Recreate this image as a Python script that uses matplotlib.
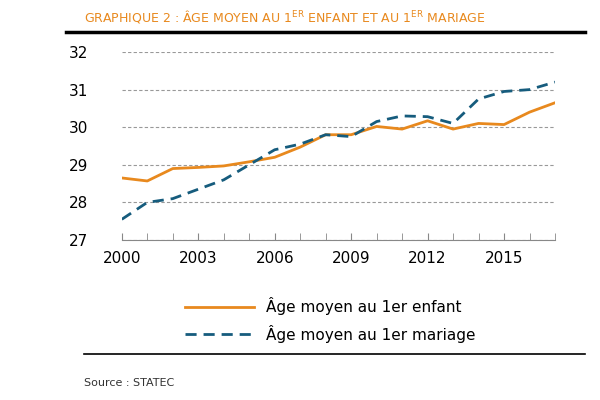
import matplotlib.pyplot as plt
from matplotlib.lines import Line2D

years = list(range(2000, 2018))
age_enfant = [28.65, 28.57, 28.9, 28.93, 28.97, 29.08, 29.2, 29.47, 29.8, 29.8,
              30.02, 29.95, 30.17, 29.95, 30.1, 30.07, 30.4, 30.65]
age_mariage = [27.55, 28.0, 28.1, 28.35, 28.6, 29.0, 29.4, 29.55, 29.8, 29.75,
               30.15, 30.3, 30.28, 30.1, 30.75, 30.95, 31.0, 31.2]
xticks = [2000, 2003, 2006, 2009, 2012, 2015]

orange = '#E8891E'
blue = '#165C7D'

fig = plt.figure(figsize=(6, 4), dpi=100)
ax = fig.add_axes([0.203, 0.4, 0.722, 0.47])
ax.plot(years, age_enfant, color=orange, lw=2, label='Âge moyen au 1er enfant')
ax.plot(years, age_mariage, color=blue, lw=2, ls=(0, (4, 2.5)), label='Âge moyen au 1er mariage')
ax.set_xlim(2000, 2017)
ax.set_ylim(27, 32)
ax.set_yticks(range(27, 33))
ax.set_xticks(xticks)
ax.set_xticks(years, minor=True)
ax.grid(axis='y', ls=(0, (3, 2)), color='#999999', lw=0.8)
for s in ['top', 'right', 'left']:
    ax.spines[s].set_visible(False)
ax.spines['bottom'].set_color('#888888')
ax.tick_params(axis='y', length=0, labelsize=11, pad=38)
ax.tick_params(axis='x', which='both', direction='in', length=5, color='#888888', labelsize=11, pad=8)
for lab in ax.get_yticklabels():
    lab.set_horizontalalignment('left')

fig.text(0.14, 0.958, 'GRAPHIQUE 2 : ÂGE MOYEN AU 1$^{\\mathrm{ER}}$ ENFANT ET AU 1$^{\\mathrm{ER}}$ MARIAGE',
         color=orange, fontsize=9, va='center')
fig.add_artist(Line2D([0.11, 0.975], [0.92, 0.92], color='black', lw=2.5))
fig.add_artist(Line2D([0.14, 0.975], [0.115, 0.115], color='black', lw=1.2))
fig.legend(loc='center', bbox_to_anchor=(0.55, 0.2), frameon=False, fontsize=11,
           handlelength=4.5, labelspacing=0.6)
fig.text(0.14, 0.035, 'Source : STATEC', fontsize=8, color='#333333')
fig.savefig('out.png')
